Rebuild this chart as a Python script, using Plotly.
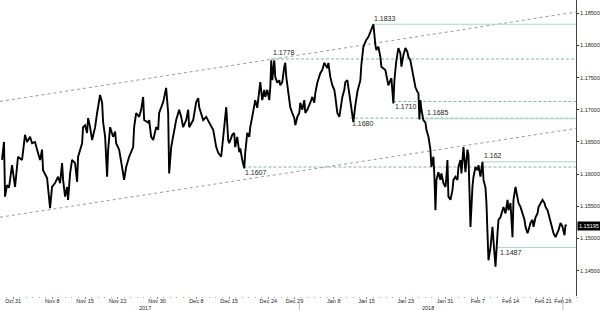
import math
import pandas as pd
import plotly.graph_objects as go

# ---------------- data ----------------
# time of each observation, in trading days (Mon-Fri) counted from 2017-10-31 00:00
t_days = [-1.68, -1.38, -1.22, -0.92, -0.61, -0.15, 0.31, 0.76, 1.38, 1.83, 2.14, 2.60, 2.91, 3.36, 3.82,
          4.13, 4.43, 4.59, 5.20, 5.35, 5.66, 5.96, 6.42, 6.88, 7.19, 7.49, 7.65, 7.95, 8.26, 8.41,
          8.72, 9.02, 9.48, 9.79, 9.94, 10.55, 10.70, 11.01, 11.31, 11.47, 11.77, 12.08, 12.54, 12.84, 13.30,
          13.61, 13.76, 14.07, 14.37, 14.53, 14.83, 15.29, 15.60, 15.75, 16.21, 16.82, 16.97, 17.28, 17.74, 18.35,
          18.50, 18.81, 19.27, 19.57, 19.88, 20.03, 20.64, 20.80, 21.10, 21.41, 21.87, 22.17, 22.32, 22.94, 23.39,
          23.70, 23.85, 24.16, 24.46, 24.92, 25.38, 25.69, 25.99, 26.45, 26.76, 26.91, 27.52, 27.98, 28.29, 28.44,
          29.05, 29.51, 29.97, 30.58, 31.04, 31.35, 31.80, 32.11, 32.26, 32.57, 32.87, 33.03, 33.49, 33.79, 33.94,
          34.25, 34.56, 34.71, 35.02, 35.32, 35.47, 35.78, 36.09, 36.24, 36.54, 36.85, 37.00, 37.31, 37.61, 37.77,
          38.07, 38.38, 38.53, 38.84, 39.14, 39.30, 39.45, 39.60, 39.91, 40.06, 40.37, 40.67, 40.83, 41.13, 41.44,
          41.59, 41.74, 42.20, 42.35, 42.66, 42.97, 43.12, 43.43, 43.73, 43.88, 44.19, 44.50, 44.65, 44.95, 45.41,
          45.72, 46.02, 46.18, 46.48, 46.79, 46.94, 47.25, 47.55, 47.71, 48.01, 48.17, 48.47, 48.78, 49.08, 49.24,
          49.54, 49.85, 50.00, 50.31, 50.61, 50.76, 51.07, 51.38, 51.68, 51.99, 52.29, 52.60, 53.06, 53.21, 53.52,
          53.98, 54.28, 54.74, 55.05, 55.35, 55.50, 55.81, 56.12, 56.27, 56.57, 56.88, 57.03, 57.34, 57.65, 57.80,
          58.10, 58.26, 58.56, 58.87, 59.17, 59.33, 59.63, 59.94, 60.24, 60.40, 60.70, 60.86, 61.16, 61.47, 61.77,
          61.93, 62.08, 62.23, 62.39, 62.69, 63.00, 63.15, 63.46, 63.76, 63.91, 64.07, 64.22, 64.37, 64.53, 64.68,
          64.98, 65.29, 65.44, 65.75, 66.06, 66.21, 66.36, 66.51, 66.82, 67.13, 67.28, 67.58, 67.89, 68.04, 68.35,
          68.50, 68.81, 69.11, 69.42, 69.57, 69.88, 70.18, 70.34, 70.64, 70.95, 71.10, 71.41, 71.71, 71.87, 72.17,
          72.32, 72.48, 72.63, 72.94, 73.24, 73.39, 73.70, 74.01, 74.16, 74.46, 74.77, 74.92, 75.23, 75.54, 75.69,
          75.99, 76.30, 76.45, 76.76, 76.91, 77.22, 77.52, 77.83, 78.13, 78.29, 78.59, 78.75, 79.05, 79.36, 79.51,
          79.82, 80.12, 80.28, 80.58, 80.89, 81.19, 81.35, 81.65, 81.96, 82.11, 82.42, 82.57, 82.87, 83.18, 83.33,
          83.64, 83.94, 84.25, 84.40, 84.56]

price = [1.1622, 1.1650, 1.1565, 1.1583, 1.1579, 1.1614, 1.1580, 1.1627, 1.1622, 1.1661, 1.1650, 1.1658, 1.1648, 1.1650, 1.1633,
         1.1622, 1.1638, 1.1606, 1.1594, 1.1580, 1.1547, 1.1580, 1.1586, 1.1596, 1.1586, 1.1617, 1.1591, 1.1565, 1.1580, 1.1560,
         1.1601, 1.1622, 1.1617, 1.1588, 1.1627, 1.1648, 1.1673, 1.1676, 1.1664, 1.1687, 1.1673, 1.1653, 1.1673, 1.1695, 1.1723,
         1.1711, 1.1681, 1.1658, 1.1596, 1.1638, 1.1673, 1.1658, 1.1666, 1.1648, 1.1638, 1.1601, 1.1591, 1.1611, 1.1627, 1.1642,
         1.1673, 1.1695, 1.1689, 1.1700, 1.1720, 1.1684, 1.1680, 1.1684, 1.1658, 1.1653, 1.1673, 1.1669, 1.1695, 1.1712, 1.1734,
         1.1695, 1.1601, 1.1642, 1.1658, 1.1684, 1.1700, 1.1689, 1.1673, 1.1684, 1.1700, 1.1673, 1.1684, 1.1712, 1.1718, 1.1704,
         1.1684, 1.1689, 1.1680, 1.1669, 1.1642, 1.1633, 1.1627, 1.1658, 1.1673, 1.1704, 1.1653, 1.1648, 1.1661, 1.1664, 1.1642,
         1.1658, 1.1634, 1.1640, 1.1622, 1.1609, 1.1633, 1.1664, 1.1658, 1.1673, 1.1689, 1.1704, 1.1715, 1.1703, 1.1735, 1.1743,
         1.1715, 1.1731, 1.1720, 1.1731, 1.1715, 1.1735, 1.1777, 1.1746, 1.1777, 1.1751, 1.1742, 1.1746, 1.1738, 1.1743, 1.1767,
         1.1773, 1.1751, 1.1720, 1.1704, 1.1695, 1.1687, 1.1676, 1.1689, 1.1695, 1.1711, 1.1700, 1.1715, 1.1695, 1.1700, 1.1711,
         1.1720, 1.1711, 1.1726, 1.1742, 1.1751, 1.1757, 1.1762, 1.1773, 1.1770, 1.1765, 1.1773, 1.1751, 1.1738, 1.1731, 1.1720,
         1.1695, 1.1689, 1.1700, 1.1720, 1.1731, 1.1743, 1.1746, 1.1723, 1.1700, 1.1681, 1.1707, 1.1728, 1.1746, 1.1770, 1.1798,
         1.1809, 1.1813, 1.1824, 1.1833, 1.1801, 1.1793, 1.1798, 1.1782, 1.1767, 1.1765, 1.1762, 1.1754, 1.1738, 1.1746, 1.1749,
         1.1710, 1.1746, 1.1777, 1.1796, 1.1788, 1.1767, 1.1785, 1.1796, 1.1790, 1.1782, 1.1777, 1.1767, 1.1751, 1.1735, 1.1728,
         1.1726, 1.1685, 1.1715, 1.1700, 1.1684, 1.1680, 1.1669, 1.1658, 1.1638, 1.1611, 1.1617, 1.1627, 1.1596, 1.1544, 1.1591,
         1.1603, 1.1591, 1.1601, 1.1586, 1.1580, 1.1596, 1.1622, 1.1565, 1.1560, 1.1575, 1.1591, 1.1596, 1.1591, 1.1611, 1.1622,
         1.1601, 1.1642, 1.1603, 1.1638, 1.1630, 1.1518, 1.1580, 1.1596, 1.1611, 1.1606, 1.1614, 1.1596, 1.1619, 1.1591, 1.1579,
         1.1555, 1.1508, 1.1466, 1.1486, 1.1518, 1.1497, 1.1456, 1.1508, 1.1529, 1.1533, 1.1544, 1.1549, 1.1539, 1.1560, 1.1544,
         1.1555, 1.1502, 1.1560, 1.1580, 1.1571, 1.1555, 1.1549, 1.1539, 1.1529, 1.1518, 1.1508, 1.1513, 1.1524, 1.1529, 1.1518,
         1.1533, 1.1539, 1.1549, 1.1555, 1.1560, 1.1555, 1.1549, 1.1544, 1.1533, 1.1524, 1.1513, 1.1508, 1.1502, 1.1508, 1.1513,
         1.1524, 1.1518, 1.1505, 1.1521, 1.15195]

last_price = 1.15195

# annotated levels: drawn value, label, start time (trading days), line style, label above?
level_values = [1.1833, 1.1779, 1.1713, 1.1687, 1.1686, 1.1611, 1.1619, 1.1486]
level_labels = ["1.1833", "1.1778", "1.1710", "1.1680", "1.1685", "1.1607", "1.162", "1.1487"]
level_start = [54.90, 39.40, 58.10, 51.53, 63.00, 35.20, 71.71, 74.01]
level_solid = [True, False, False, False, True, False, True, True]
level_above = [True, True, False, False, True, False, True, False]

# trend channel (start / end prices at the chart edges)
channel_upper = [1.1713, 1.1852]
channel_lower = [1.1533, 1.1671]

tick_dates = ["2017-10-31", "2017-11-08", "2017-11-15", "2017-11-22", "2017-11-30", "2017-12-08",
              "2017-12-15", "2017-12-25", "2017-12-29", "2018-01-08", "2018-01-15", "2018-01-23",
              "2018-01-31", "2018-02-07", "2018-02-14", "2018-02-21", "2018-02-26"]
tick_labels = ["Oct 31", "Nov 8", "Nov 15", "Nov 22", "Nov 30", "Dec 8", "Dec 15", "Dec 24", "Dec 29",
               "Jan 8", "Jan 15", "Jan 23", "Jan 31", "Feb 7", "Feb 14", "Feb 21", "Feb 26"]
year_labels = ["2017", "2018"]
year_label_days = [20.18, 63.46]

y_ticks = [1.145, 1.150, 1.155, 1.160, 1.165, 1.170, 1.175, 1.180, 1.185]

# ---------------- helpers ----------------
BASE = pd.Timestamp("2017-10-31")


def trading_time(td):
    n = math.floor(td)
    ts = BASE + pd.offsets.BDay(n) + pd.Timedelta(days=td - n)
    return ts.strftime("%Y-%m-%d %H:%M:%S")


x_times = [trading_time(t) for t in t_days]
X_START = trading_time(-1.99)
X_END = "2018-02-28 00:00:00"
Y_RANGE = [1.14105, 1.18707]

FONT = "Liberation Sans"

fig = go.Figure()
fig.add_trace(go.Scatter(x=x_times, y=price, mode="lines",
                         line=dict(color="#000000", width=1.9), hoverinfo="skip"))

shapes = []
# channel lines
for ch in (channel_upper, channel_lower):
    shapes.append(dict(type="line", xref="x", yref="y", x0=X_START, x1=X_END,
                       y0=ch[0], y1=ch[1], line=dict(color="#9a9a9a", width=1, dash="3px,3px"),
                       layer="below"))

annotations = []
for v, lab, st, solid, above in zip(level_values, level_labels, level_start, level_solid, level_above):
    shapes.append(dict(type="line", xref="x", yref="y", x0=trading_time(st), x1=X_END, y0=v, y1=v,
                       line=dict(color="#a9d6ca" if solid else "#7fb6a8", width=1,
                                 dash="solid" if solid else "3px,2px"),
                       layer="below"))
    annotations.append(dict(x=trading_time(st), y=v, xref="x", yref="y", text=lab, showarrow=False,
                            xanchor="left", yanchor="middle", yshift=6 if above else -5,
                            font=dict(family=FONT, size=7, color="#222222")))

for lab, d in zip(year_labels, year_label_days):
    annotations.append(dict(x=trading_time(d), y=0, xref="x", yref="paper", text=lab, showarrow=False,
                            xanchor="center", yanchor="middle", yshift=-11.5,
                            font=dict(family=FONT, size=5.5, color="#222222")))

annotations.append(dict(x=1, y=last_price, xref="paper", yref="y", text=f"{last_price:.5f}",
                        showarrow=False, xanchor="left", yanchor="middle", xshift=1,
                        bgcolor="#000000", borderpad=1,
                        font=dict(family=FONT, size=5.5, color="#ffffff")))

# small separators under the axis
for d in ["2017-12-29 18:00:00", "2018-02-26 00:00:00"]:
    shapes.append(dict(type="line", xref="x", yref="paper", x0=d, x1=d, y0=-0.024, y1=-0.047,
                       line=dict(color="#bbbbbb", width=1)))

fig.update_layout(
    width=600, height=310,
    margin=dict(l=0, r=24, t=0, b=14),
    paper_bgcolor="#ffffff", plot_bgcolor="#ffffff",
    showlegend=False,
    shapes=shapes,
    annotations=annotations,
    xaxis=dict(
        type="date", range=[X_START, X_END],
        rangebreaks=[dict(bounds=["sat", "mon"])],
        tickmode="array", tickvals=tick_dates, ticktext=tick_labels,
        ticks="outside", ticklen=2, tickcolor="#888888", tickwidth=1,
        ticklabelstandoff=-3,
        minor=dict(ticks="outside", ticklen=1, tickcolor="#aaaaaa", dtick=86400000, showgrid=False),
        showgrid=False, showline=False, zeroline=False,
        tickfont=dict(family=FONT, size=5.5, color="#222222"),
        automargin=False, fixedrange=True,
    ),
    yaxis=dict(
        side="right", range=Y_RANGE,
        tickmode="array", tickvals=y_ticks, ticktext=[f"{v:.5f}" for v in y_ticks],
        ticks="outside", ticklen=2, tickcolor="#333333",
        showgrid=False, zeroline=False,
        showline=True, linecolor="#444444", linewidth=1,
        tickfont=dict(family=FONT, size=5.5, color="#222222"),
        automargin=False, fixedrange=True,
    ),
)

fig.write_html("out.html")
